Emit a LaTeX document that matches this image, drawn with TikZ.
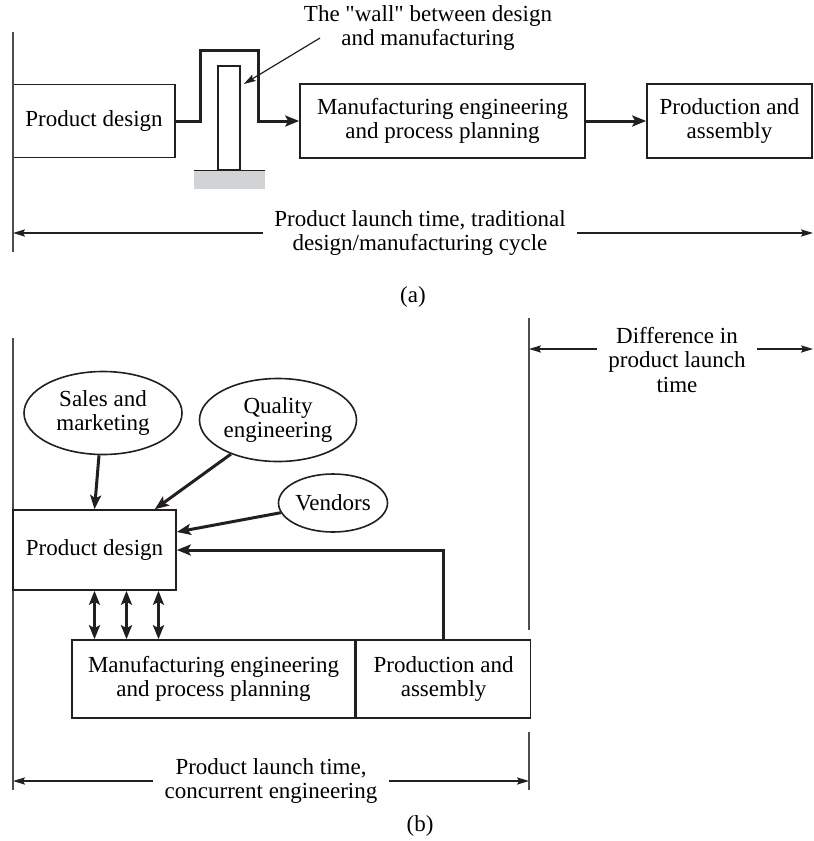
\documentclass[tikz,border=0pt]{standalone}
\usepackage{fontspec}
\setmainfont{Liberation Serif}[Ligatures=TeXOff]
\usetikzlibrary{
  arrows.meta,
  shapes.geometric,
  positioning,
  calc
}
\definecolor{cmInk}{HTML}{231F20}
\definecolor{cmRule}{HTML}{4D4D4D}
\definecolor{cmWall}{HTML}{D1D3D4}
\tikzset{
  cmnode/.style={
    draw=cmInk, line width=0.8pt, align=center, inner sep=0pt,
    font=\fontsize{11.5}{12.3}\selectfont
  },
  cmbox/.style={cmnode, rectangle},
  cmoval/.style={cmnode, ellipse},
  wall/.style={draw=cmInk, line width=0.8pt, fill=white, inner sep=0pt},
  ground/.style={fill=cmWall, inner sep=0pt},
  flow/.style={-{Stealth[length=7pt, width=5.5pt, inset=1.5pt]}, line width=1.5pt, cmInk},
  twoway/.style={{Stealth[length=7pt, width=5.5pt, inset=1.5pt]}-{Stealth[length=7pt, width=5.5pt, inset=1.5pt]}, line width=1.5pt, cmInk},
  dim/.style={-{Stealth[length=6pt, width=3.6pt, inset=1pt]}, line width=0.6pt, cmInk},
  pointer/.style={-{Stealth[length=6pt, width=3.6pt, inset=1pt]}, line width=0.6pt, cmInk},
  rule/.style={line width=0.8pt, cmRule},
  tag/.style={align=center, inner xsep=5.5pt, inner ysep=0pt, font=\fontsize{11.5}{12.3}\selectfont},
  caption/.style={font=\fontsize{11.5}{12.3}\selectfont}
}

\begin{document}
\begin{tikzpicture}[x=0.5pt, y=-0.5pt]
  \useasboundingbox (0,0) rectangle (814,841);

  % (a) traditional cycle
  \node[cmbox, minimum width=81pt, minimum height=36.5pt] (pdA) at (94,121) {Product design};
  \node[cmbox, minimum width=142.5pt, minimum height=37pt] (mfgA) at (442.5,121) {Manufacturing engineering\\and process planning};
  \node[cmbox, minimum width=82.5pt, minimum height=37pt] (prodA) at (729.5,121) {Production and\\assembly};
  \node[ground, minimum width=35.5pt, minimum height=9pt] (base) at (229.5,180) {};
  \node[wall, minimum width=11pt, minimum height=52pt] (wall) at (229,118) {};
  \draw[cmInk, line width=0.8pt] (base.north west) -- (base.north east);
  \coordinate (wallL) at (200,50);
  \coordinate (wallR) at (258,50);
  \draw[flow] (pdA.east) -| (wallL) -- (wallR) |- (mfgA.west);
  \draw[flow] (mfgA) -- (prodA);
  \node[tag] (wallTxt) at (428,28) {The "wall" between design\\and manufacturing};
  \coordinate (wallPtr) at (320,38);
  \draw[pointer] (wallPtr) -- ([xshift=1.5pt, yshift=17pt]wall.east);

  \coordinate (aTop) at (13,32);
  \coordinate (aBot) at (13,252);
  \coordinate (aEnd) at (813,233);
  \draw[rule] (aTop) -- (aBot);
  \node[tag] (launchA) at (420,233) {Product launch time, traditional\\design/manufacturing cycle};
  \draw[dim] (launchA.west) -- (launchA.west -| aTop);
  \draw[dim] (launchA.east) -- (aEnd);
  \node[caption] (capA) at (413,297) {(a)};

  % (b) concurrent engineering
  \coordinate (bTop) at (13,338);
  \coordinate (bBot) at (13,790);
  \coordinate (cTop) at (529,318);
  \coordinate (cMidA) at (529,630);
  \coordinate (cMidB) at (529,732);
  \coordinate (cBot) at (529,790);
  \draw[rule] (bTop) -- (bBot);
  \draw[rule] (cTop) -- (cMidA);
  \draw[rule] (cMidB) -- (cBot);

  \node[tag] (diffTxt) at (677,360) {Difference in\\product launch\\time};
  \coordinate (diffEnd) at (813,349);
  \draw[dim] ([yshift=5.5pt]diffTxt.west) -- ([yshift=5.5pt]diffTxt.west -| cTop);
  \draw[dim] ([yshift=5.5pt]diffTxt.east) -- (diffEnd);

  \node[cmoval, minimum width=79pt, minimum height=41.5pt] (sales) at (103,413) {Sales and\\marketing};
  \node[cmoval, minimum width=78.5pt, minimum height=41.5pt] (quality) at (278,420) {Quality\\engineering};
  \node[cmoval, minimum width=54.5pt, minimum height=29pt] (vendors) at (333,503) {Vendors};
  \node[cmbox, minimum width=81.5pt, minimum height=40pt] (pdB) at (94.5,550) {Product design};
  \node[cmbox, minimum width=141.5pt, minimum height=39pt] (mfgB) at (213.5,679) {Manufacturing engineering\\and process planning};
  \node[cmbox, minimum width=87pt, minimum height=39pt, right=0pt of mfgB] (prodB) {Production and\\assembly};

  \draw[flow] ([xshift=-2pt]sales.south) -- (pdB.north);
  \draw[flow] (quality) -- ([xshift=-11pt]pdB.north east);
  \draw[flow] (vendors) -- ([yshift=9pt]pdB.east);
  \draw[flow] (prodB.north) |- (pdB.east);
  \foreach \dx in {0,16,32}
    \draw[twoway] ([xshift=\dx pt]pdB.south) -- ([xshift=\dx pt]pdB.south |- mfgB.north);

  \node[tag] (launchB) at (271,781) {Product launch time,\\concurrent engineering};
  \draw[dim] (launchB.west) -- (launchB.west -| bTop);
  \draw[dim] (launchB.east) -- (launchB.east -| cTop);
  \node[caption] (capB) at (420,826) {(b)};
\end{tikzpicture}
\end{document}
